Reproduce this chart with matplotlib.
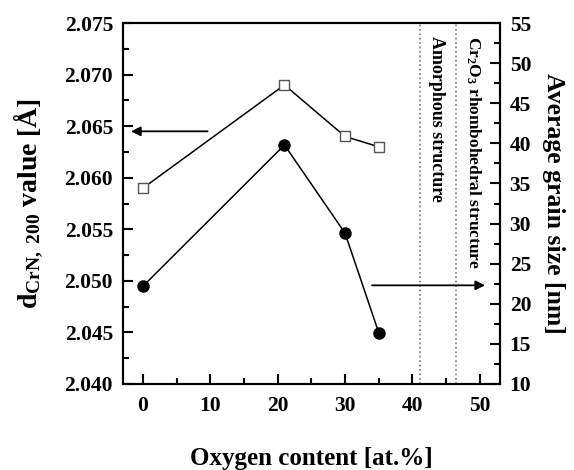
import numpy as np
import matplotlib.pyplot as plt

# data
oxygen = [0, 21, 30, 35]
d_spacing = [2.059, 2.069, 2.064, 2.063]
grain_size = [22.2, 39.8, 28.8, 16.4]
boundaries = [41.2, 46.5]

plt.rcParams['font.family'] = 'Liberation Serif'
plt.rcParams['font.weight'] = 'bold'
plt.rcParams['axes.labelweight'] = 'bold'
plt.rcParams['mathtext.fontset'] = 'custom'
plt.rcParams['mathtext.rm'] = 'Liberation Serif:bold'
plt.rcParams['mathtext.it'] = 'Liberation Serif:bold'
plt.rcParams['mathtext.default'] = 'rm'

fig = plt.figure(figsize=(5.74, 4.70), dpi=100)
ax = fig.add_axes([0.214, 0.183, 0.657, 0.768])
ax2 = ax.twinx()

ax.plot(oxygen, d_spacing, color='black', lw=1.1, marker='s', ms=7,
        mfc='white', mec='#555555', mew=1.0)
ax2.plot(oxygen, grain_size, color='black', lw=1.1, marker='o', ms=8,
         mfc='black', mec='black')

for b in boundaries:
    ax.axvline(b, color='#777777', ls=':', lw=1.2)

ax.set_xlim(-3, 53)
ax.set_ylim(2.040, 2.075)
ax2.set_ylim(10, 55)
ax.set_xticks(np.arange(0, 51, 10))
ax.set_xticks(np.arange(0, 51, 5), minor=True)
ax.set_yticks(np.arange(2.040, 2.0751, 0.005))
ax.set_yticks(np.arange(2.040, 2.0751, 0.0025), minor=True)
ax.set_yticklabels(['%.3f' % v for v in np.arange(2.040, 2.0751, 0.005)])
ax2.set_yticks(np.arange(10, 56, 5))
ax2.set_yticks(np.arange(10, 56, 2.5), minor=True)

for a in (ax, ax2):
    a.tick_params(which='both', direction='in', width=1.5, labelsize=15.5, pad=7)
    a.tick_params(which='major', length=7)
    a.tick_params(which='minor', length=4)
    for s in a.spines.values():
        s.set_linewidth(1.5)
ax.tick_params(axis='x', pad=9)

ax.annotate('', xy=(-2.2, 2.0645), xytext=(10, 2.0645),
            arrowprops=dict(arrowstyle='-|>', color='black', lw=1.3, mutation_scale=14))
ax2.annotate('', xy=(51.2, 22.3), xytext=(33.6, 22.3),
             arrowprops=dict(arrowstyle='-|>', color='black', lw=1.3, mutation_scale=14))

ax.text(43.6, 2.0737, 'Amorphous structure', rotation=-90, ha='center', va='top', fontsize=13)
ax.text(49.0, 2.0737, 'Cr$_2$O$_3$ rhombohedral structure', rotation=-90,
        ha='center', va='top', fontsize=12.5)

ax.set_xlabel('Oxygen content [at.%]', fontsize=18, labelpad=22)
ax.set_ylabel('d$_{CrN,\\ 200}$ value [Å]', fontsize=20, labelpad=14)
ax2.set_ylabel('Average grain size [nm]', fontsize=18.5, rotation=-90, labelpad=24)

fig.savefig('out.png', dpi=100)
